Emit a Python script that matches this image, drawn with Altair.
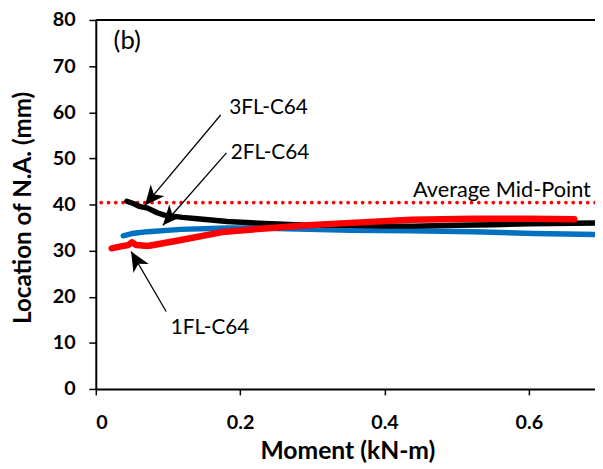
import math
import altair as alt
import pandas as pd

# ---------------- data ----------------
fl3_x = [0.043, 0.052, 0.060, 0.072, 0.085, 0.095, 0.120, 0.141, 0.182, 0.234, 0.293, 0.353, 0.400, 0.440, 0.500, 0.550, 0.600, 0.692]
fl3_y = [40.7, 40.2, 39.6, 39.2, 38.2, 37.7, 37.2, 36.9, 36.3, 35.9, 35.5, 35.5, 35.3, 35.3, 35.5, 35.6, 35.8, 36.0]

fl2_x = [0.038, 0.050, 0.072, 0.118, 0.182, 0.220, 0.266, 0.353, 0.437, 0.524, 0.608, 0.692]
fl2_y = [33.2, 33.7, 34.1, 34.6, 34.9, 34.9, 34.7, 34.4, 34.3, 34.1, 33.7, 33.5]

fl1_x = [0.022, 0.035, 0.045, 0.050, 0.056, 0.072, 0.118, 0.175, 0.234, 0.293, 0.353, 0.437, 0.524, 0.600, 0.663]
fl1_y = [30.5, 30.9, 31.2, 31.8, 31.2, 31.0, 32.3, 34.0, 34.8, 35.5, 36.0, 36.7, 36.9, 36.9, 36.8]

mid_point = 40.4

x_ticks = [0, 0.2, 0.4, 0.6]
y_ticks = [0, 10, 20, 30, 40, 50, 60, 70, 80]
X_MAX = 0.6917
Y_MAX = 80

label_text = ["3FL-C64", "2FL-C64", "1FL-C64"]
label_x = [0.185, 0.187, 0.104]
label_y = [59.7, 49.8, 12.0]

arrow_start_x = [0.173, 0.181, 0.0975]
arrow_start_y = [59.4, 51.2, 16.8]
arrow_tip_x = [0.068, 0.093, 0.049]
arrow_tip_y = [39.8, 35.5, 29.8]

mid_label = "Average Mid-Point"
mid_label_x = 0.6860
mid_label_y = 41.6

panel_label = "(b)"
panel_x = 0.0246
panel_y = 73.6

# ---------------- layout ----------------
W, H = 506, 374
FONT = "Lato"

xs = alt.Scale(domain=[0, X_MAX], nice=False, zero=True)
ys = alt.Scale(domain=[0, Y_MAX], nice=False, zero=True)

x_axis = alt.Axis(values=x_ticks, format="~g", title="Moment (kN-m)", grid=False,
                  domainColor="black", domainWidth=2, tickColor="black", tickWidth=1.5,
                  tickSize=6, labelPadding=18, labelFontSize=20, labelFont=FONT,
                  labelFontWeight="bold", labelColor="black",
                  titleFont=FONT, titleFontSize=25, titleFontWeight="bold", titleColor="black",
                  titleX=255, titleY=71, titleBaseline="alphabetic")
y_axis = alt.Axis(values=y_ticks, title="Location of N.A. (mm)", grid=False,
                  domainColor="black", domainWidth=2, tickColor="black", tickWidth=1.5,
                  tickSize=7, labelPadding=14, labelFontSize=20, labelFont=FONT,
                  labelFontWeight="bold", labelColor="black",
                  titleFont=FONT, titleFontSize=24.5, titleFontWeight="bold", titleColor="black",
                  titleX=-66, titleY=190, titleBaseline="alphabetic")


def X(field):
    return alt.X(field, type="quantitative", scale=xs, axis=x_axis)


def Y(field):
    return alt.Y(field, type="quantitative", scale=ys, axis=y_axis)


def series_df(xv, yv):
    return pd.DataFrame({"x": xv, "y": yv, "i": list(range(len(xv)))})


# top border
top = alt.Chart(pd.DataFrame({"y": [Y_MAX]})).mark_rule(color="black", strokeWidth=2).encode(y=Y("y"))

# dotted average mid-point
mid = alt.Chart(pd.DataFrame({"y": [mid_point]})).mark_rule(
    color="#FF0000", strokeWidth=3.8, strokeDash=[0.01, 7.35], strokeCap="round"
).encode(y=Y("y"))

line_kw = dict(strokeCap="round", strokeJoin="round")
blue = alt.Chart(series_df(fl2_x, fl2_y)).mark_line(color="#0070C0", strokeWidth=5.5, **line_kw).encode(
    x=X("x"), y=Y("y"), order="i:Q")
black = alt.Chart(series_df(fl3_x, fl3_y)).mark_line(color="black", strokeWidth=5.5, **line_kw).encode(
    x=X("x"), y=Y("y"), order="i:Q")
red = alt.Chart(series_df(fl1_x, fl1_y)).mark_line(color="#FF0000", strokeWidth=6.5, **line_kw).encode(
    x=X("x"), y=Y("y"), order="i:Q")

# arrows
px_x = W / X_MAX
px_y = H / Y_MAX
angles = []
for sx, sy, tx, ty in zip(arrow_start_x, arrow_start_y, arrow_tip_x, arrow_tip_y):
    dx = (tx - sx) * px_x
    dy = -(ty - sy) * px_y
    angles.append(math.degrees(math.atan2(dx, -dy)) % 360)

arrow_df = pd.DataFrame({"sx": arrow_start_x, "sy": arrow_start_y,
                         "tx": arrow_tip_x, "ty": arrow_tip_y, "ang": angles})
shafts = alt.Chart(arrow_df).mark_rule(color="black", strokeWidth=1.3).encode(
    x=X("sx"), y=Y("sy"), x2="tx", y2="ty")
heads = alt.Chart(arrow_df).mark_point(
    shape="M0,0L0.45,1L0,0.72L-0.45,1Z", filled=True, color="black", opacity=1, size=1600,
    strokeWidth=0
).encode(x=X("tx"), y=Y("ty"), angle=alt.Angle("ang:Q", scale=None))

labels = alt.Chart(pd.DataFrame({"t": label_text, "x": label_x, "y": label_y})).mark_text(
    font=FONT, fontSize=21, align="left", baseline="alphabetic", color="black"
).encode(x=X("x"), y=Y("y"), text="t:N")

mid_text = alt.Chart(pd.DataFrame({"t": [mid_label], "x": [mid_label_x], "y": [mid_label_y]})).mark_text(
    font=FONT, fontSize=22, align="right", baseline="alphabetic", color="black"
).encode(x=X("x"), y=Y("y"), text="t:N")

panel = alt.Chart(pd.DataFrame({"t": [panel_label], "x": [panel_x], "y": [panel_y]})).mark_text(
    font=FONT, fontSize=26, align="left", baseline="alphabetic", color="black"
).encode(x=X("x"), y=Y("y"), text="t:N")

chart = alt.layer(top, mid, blue, black, red, shafts, heads, labels, mid_text, panel).properties(
    width=W, height=H,
    autosize=alt.AutoSizeParams(type="none"),
    padding={"left": 89, "top": 9, "right": 0, "bottom": 78},
).configure_view(stroke=None).configure(background="white")

chart.save("out.html", embed_options={"renderer": "svg", "actions": False})
